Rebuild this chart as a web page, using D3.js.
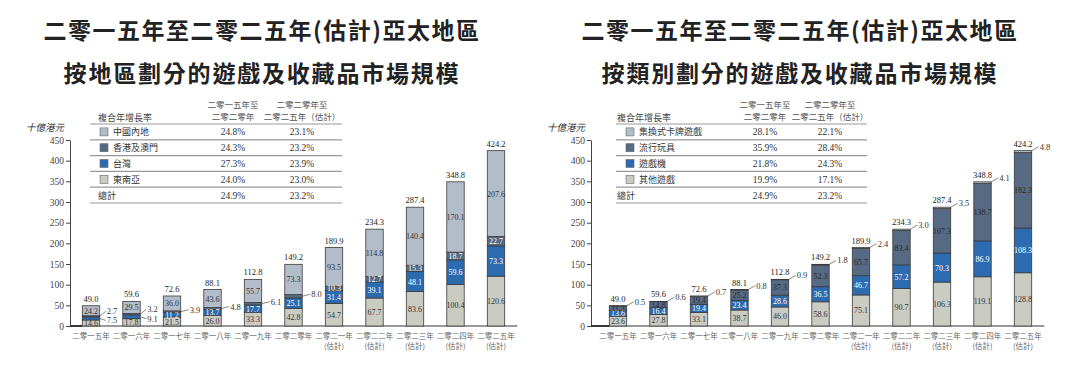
<!DOCTYPE html>
<html><head><meta charset="utf-8">
<script src="https://cdn.jsdelivr.net/npm/d3@7/dist/d3.min.js"></script>
<style>
body{margin:0;background:#fff;}
svg{display:block;}
</style></head>
<body><svg id="c" width="1080" height="386"></svg>
<script>
// ---------- DATA ----------
const years = ['二零一五年','二零一六年','二零一七年','二零一八年','二零一九年','二零二零年','二零二一年','二零二二年','二零二三年','二零二四年','二零二五年'];
const yearNotes = ['','','','','','','(估計)','(估計)','(估計)','(估計)','(估計)'];
const yTicks = [0,50,100,150,200,250,300,350,400,450];

// Chart 1: by region (bottom -> top)
const regionNames = ['中國內地','香港及澳門','台灣','東南亞'];
const seaValues    = [14.6,17.8,21.5,26.0,33.3,42.8,54.7,67.7,83.6,100.4,120.6];
const taiwanValues = [7.5,9.1,11.2,13.7,17.7,25.1,31.4,39.1,48.1,59.6,73.3];
const hkValues     = [2.7,3.2,3.9,4.8,6.1,8.0,10.3,12.7,15.3,18.7,22.7];
const chinaValues  = [24.2,29.5,36.0,43.6,55.7,73.3,93.5,114.8,140.4,170.1,207.6];
const totals       = [49.0,59.6,72.6,88.1,112.8,149.2,189.9,234.3,287.4,348.8,424.2];
const regionCagr1520 = ['24.8%','24.3%','27.3%','24.0%','24.9%'];
const regionCagr2025 = ['23.1%','23.2%','23.9%','23.0%','23.2%'];

// Chart 2: by category (bottom -> top)
const categoryNames = ['集換式卡牌遊戲','流行玩具','遊戲機','其他遊戲'];
const otherValues   = [23.6,27.8,33.1,38.7,46.0,58.6,75.1,90.7,106.3,119.1,128.8];
const consoleValues = [13.6,16.4,19.4,23.4,28.6,36.5,46.7,57.2,70.3,86.9,108.3];
const popToyValues  = [11.3,14.8,19.4,25.2,37.3,52.3,65.7,83.4,107.3,138.7,182.3];
const tcgValues     = [0.5,0.6,0.7,0.8,0.9,1.8,2.4,3.0,3.5,4.1,4.8];
const categoryCagr1520 = ['28.1%','35.9%','21.8%','19.9%','24.9%'];
const categoryCagr2025 = ['22.1%','28.4%','24.3%','17.1%','23.2%'];

// ---------- STYLE ----------
const C_TOP = '#b3bdca', C_SLATE = '#566a84', C_BLUE = '#2d6bb0', C_GRAY = '#cacbc3';
const CJK = '"Noto Sans CJK TC","Noto Sans CJK SC",sans-serif';
const SERIF = '"Liberation Serif","DejaVu Serif",serif';

const svg = d3.select('#c');
const y = d3.scaleLinear().domain([0,450]).range([326,140]);

function drawChart(cfg){
  const g = svg.append('g');
  // titles
  g.append('text').attr('x',cfg.cx).attr('y',39).attr('text-anchor','middle')
   .attr('font-family',CJK).attr('font-weight',700).attr('font-size',23).attr('letter-spacing',1.5)
   .attr('fill','#222').text(cfg.title1);
  g.append('text').attr('x',cfg.cx).attr('y',82).attr('text-anchor','middle')
   .attr('font-family',CJK).attr('font-weight',700).attr('font-size',23).attr('letter-spacing',1.8)
   .attr('fill','#222').text(cfg.title2);

  // unit
  g.append('text').attr('x',cfg.axisX-6).attr('y',131).attr('text-anchor','end')
   .attr('font-family',CJK).attr('font-style','italic').attr('font-size',9.5).attr('fill','#333').text('十億港元');

  // y axis
  const ax = g.append('g').attr('transform',`translate(${cfg.axisX},0)`)
    .call(d3.axisLeft(y).tickValues(yTicks).tickSize(4).tickSizeOuter(0).tickPadding(2));
  ax.select('.domain').attr('stroke','#444');
  ax.selectAll('.tick line').attr('stroke','#444');
  ax.selectAll('.tick text').attr('font-family',SERIF).attr('font-size',9.5).attr('fill','#444');

  // x scale
  const x = d3.scaleBand().domain(years).range([cfg.bandStart,cfg.bandEnd]).padding(0);
  const bw = x.step()*0.43;

  // baseline
  g.append('line').attr('x1',cfg.axisX).attr('x2',cfg.bandEnd+1).attr('y1',y(0)).attr('y2',y(0))
   .attr('stroke','#777').attr('stroke-width',1.4);
  g.append('line').attr('x1',cfg.axisX).attr('x2',cfg.bandStart+x.step()/2-bw/2).attr('y1',y(0)).attr('y2',y(0))
   .attr('stroke','#222').attr('stroke-width',1.6);

  // stack
  const rows = years.map((yr,i)=>{const o={year:yr}; cfg.series.forEach(s=>o[s.key]=s.values[i]); return o;});
  const stack = d3.stack().keys(cfg.series.map(s=>s.key))(rows);
  stack.forEach((layer,li)=>{
    const s = cfg.series[li];
    g.append('g').selectAll('rect').data(layer).join('rect')
     .attr('x',d=>x(d.data.year)+x.step()/2-bw/2).attr('width',bw)
     .attr('y',d=>y(d[1])).attr('height',d=>y(d[0])-y(d[1]))
     .attr('fill',s.color).attr('stroke','#3a3a3a').attr('stroke-width',0.8);
  });

  // segment labels
  years.forEach((yr,i)=>{
    const cx = x(yr)+x.step()/2, right = cx+bw/2;
    const outside = [];
    stack.forEach((layer,li)=>{
      const s = cfg.series[li], d = layer[i];
      const h = y(d[0])-y(d[1]);
      const v = s.values[i];
      if (s.alwaysOutside || h < 4){
        outside.push({v, ym:(y(d[0])+y(d[1]))/2, top:y(d[1]), s});
      } else {
        g.append('text').attr('x',cx).attr('y',(y(d[0])+y(d[1]))/2+3).attr('text-anchor','middle')
         .attr('font-family',SERIF).attr('font-size',8).attr('fill',s.textColor).text(v.toFixed(1));
      }
    });
    // outside labels with leaders
    outside.forEach((o,k)=>{
      let y0,y1,x1;
      if (o.s.alwaysOutside){ y0=o.top; y1=o.top-4; x1=right+7; }
      else if (outside.length===2){
        if (k===1){ y0=o.ym; y1=o.ym-5; } else { y0=o.ym; y1=o.ym+2; }
        x1 = right+6;
      } else { y0=o.ym; y1=o.ym-2; x1=right+8; }
      g.append('line').attr('x1',right).attr('y1',y0).attr('x2',x1).attr('y2',y1)
       .attr('stroke','#555').attr('stroke-width',0.7);
      g.append('text').attr('x',x1+1).attr('y',y1+3).attr('font-family',SERIF).attr('font-size',8.5)
       .attr('fill','#333').text(o.v.toFixed(1));
    });
    // total
    g.append('text').attr('x',cx).attr('y',y(totals[i])-4).attr('text-anchor','middle')
     .attr('font-family',SERIF).attr('font-size',8.5).attr('fill','#222').text(totals[i].toFixed(1));
    // x labels
    g.append('text').attr('x',cx).attr('y',339).attr('text-anchor','middle')
     .attr('font-family',CJK).attr('font-size',7.5).attr('fill','#666').text(yr);
    if (yearNotes[i]) g.append('text').attr('x',cx).attr('y',349).attr('text-anchor','middle')
     .attr('font-family',CJK).attr('font-size',7.5).attr('fill','#666').text(yearNotes[i]);
  });

  // legend table
  const T = cfg.table;
  const rowH = 15.8, top = 124;
  g.append('text').attr('x',T.textX).attr('y',121).attr('font-family',CJK).attr('font-size',9).attr('fill','#444').text('複合年增長率');
  [[T.c1,'二零一五年至','二零二零年'],[T.c2,'二零二零年至','二零二五年（估計）']].forEach(([cx,a,b])=>{
    g.append('text').attr('x',cx).attr('y',108).attr('text-anchor','middle').attr('font-family',CJK).attr('font-size',8.5).attr('fill','#555').text(a);
    g.append('text').attr('x',cx).attr('y',120).attr('text-anchor','middle').attr('font-family',CJK).attr('font-size',8.5).attr('fill','#555').text(b);
  });
  for (let k=0;k<=5;k++){
    g.append('line').attr('x1',T.x0).attr('x2',T.x1).attr('y1',top+k*rowH).attr('y2',top+k*rowH)
     .attr('stroke','#999').attr('stroke-width',1.2);
  }
  const legendRows = cfg.legend.map((n,k)=>({name:n,color:cfg.legendColors[k],a:cfg.cagr1[k],b:cfg.cagr2[k]}));
  legendRows.push({name:'總計',color:null,a:cfg.cagr1[4],b:cfg.cagr2[4]});
  legendRows.forEach((r,k)=>{
    const cy = top+k*rowH+rowH/2;
    if (r.color){
      g.append('rect').attr('x',T.sqX).attr('y',cy-4).attr('width',8).attr('height',8)
       .attr('fill',r.color).attr('stroke','#666').attr('stroke-width',0.6);
      g.append('text').attr('x',T.sqX+13).attr('y',cy+3.5).attr('font-family',CJK).attr('font-size',9).attr('fill','#333').text(r.name);
    } else {
      g.append('text').attr('x',T.textX).attr('y',cy+3.5).attr('font-family',CJK).attr('font-size',9).attr('fill','#333').text(r.name);
    }
    g.append('text').attr('x',T.c1).attr('y',cy+3.5).attr('text-anchor','middle').attr('font-family',SERIF).attr('font-size',9.5).attr('fill','#333').text(r.a);
    g.append('text').attr('x',T.c2).attr('y',cy+3.5).attr('text-anchor','middle').attr('font-family',SERIF).attr('font-size',9.5).attr('fill','#333').text(r.b);
  });
}

drawChart({
  cx:262, axisX:70, bandStart:70.75, bandEnd:516.25,
  title1:'二零一五年至二零二五年(估計)亞太地區', title2:'按地區劃分的遊戲及收藏品市場規模',
  series:[
    {key:'sea', values:seaValues, color:C_GRAY, textColor:'#333'},
    {key:'tw', values:taiwanValues, color:C_BLUE, textColor:'#fff'},
    {key:'hk', values:hkValues, color:C_SLATE, textColor:'#fff'},
    {key:'cn', values:chinaValues, color:C_TOP, textColor:'#333'}
  ],
  legend:regionNames, legendColors:[C_TOP,C_SLATE,C_BLUE,C_GRAY],
  cagr1:regionCagr1520, cagr2:regionCagr2025,
  table:{x0:90,x1:342,sqX:100,textX:98,c1:233,c2:302}
});
drawChart({
  cx:800, axisX:591, bandStart:597.75, bandEnd:1043.25,
  title1:'二零一五年至二零二五年(估計)亞太地區', title2:'按類別劃分的遊戲及收藏品市場規模',
  series:[
    {key:'other', values:otherValues, color:C_GRAY, textColor:'#333'},
    {key:'console', values:consoleValues, color:C_BLUE, textColor:'#fff'},
    {key:'toy', values:popToyValues, color:C_SLATE, textColor:'#2a2a2a'},
    {key:'tcg', values:tcgValues, color:C_TOP, textColor:'#333', alwaysOutside:true}
  ],
  legend:categoryNames, legendColors:[C_TOP,C_SLATE,C_BLUE,C_GRAY],
  cagr1:categoryCagr1520, cagr2:categoryCagr2025,
  table:{x0:616,x1:867,sqX:626,textX:617,c1:765,c2:830}
});
</script></body></html>
